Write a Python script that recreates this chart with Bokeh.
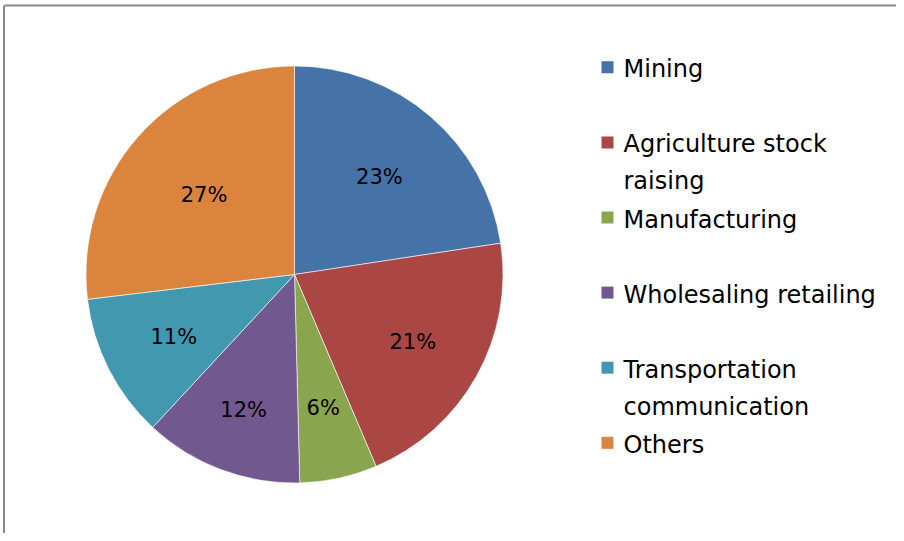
import math
from bokeh.plotting import figure
from bokeh.models import Range1d, ColumnDataSource
from bokeh.core.properties import value
from bokeh.embed import file_html
from bokeh.resources import INLINE

# ---- data ----
categories = ["Mining", "Agriculture stock raising", "Manufacturing",
              "Wholesaling retailing", "Transportation communication", "Others"]
legend_lines = [["Mining"], ["Agriculture stock", "raising"], ["Manufacturing"],
                ["Wholesaling retailing"], ["Transportation", "communication"], ["Others"]]
shares = [22.6, 21.0, 6.0, 12.3, 11.2, 26.9]
colors = ["#4572A7", "#AA4643", "#89A54E", "#71588F", "#4198AF", "#DB843D"]

W, H = 896, 533
FONT = "DejaVu Sans"

p = figure(width=W, height=H, output_backend="svg", toolbar_location=None,
           x_range=Range1d(0, W), y_range=Range1d(0, H), min_border=0)
p.axis.visible = False
p.grid.visible = False
p.outline_line_color = None
p.background_fill_color = "white"
p.border_fill_color = "white"

# frame lines (top and left)
p.segment(x0=[4, 3.5], y0=[H - 5, -5], x1=[W + 10, 3.5], y1=[H - 5, H - 5],
          line_color="#888888", line_width=2)

# ---- pie ----
cx, cy, R = 294, H - 274, 208.5
total = sum(shares)
starts, ends, mids = [], [], []
acc = 0.0
for s in shares:
    a0 = math.pi / 2 - 2 * math.pi * acc / total
    acc += s
    a1 = math.pi / 2 - 2 * math.pi * acc / total
    starts.append(a0)
    ends.append(a1)
    mids.append((a0 + a1) / 2)

src = ColumnDataSource(dict(start=starts, end=ends, color=colors))
p.wedge(x=cx, y=cy, radius=R, start_angle="start", end_angle="end", direction="clock",
        fill_color="color", line_color="white", line_width=0.6, source=src)

# label distance from centre (fraction of radius), per slice ("best fit" placement)
label_r = [0.625, 0.65, 0.65, 0.69, 0.65, 0.58]
lab = [f"{round(s / total * 100)}%" for s in shares]
p.text(x=[cx + f * R * math.cos(m) for f, m in zip(label_r, mids)],
       y=[cy + f * R * math.sin(m) - 1 for f, m in zip(label_r, mids)],
       text=lab, text_font=value(FONT), text_font_size="21px", text_color="#000000",
       text_align="center", text_baseline="middle")

# ---- legend ----
base0 = H - 77.3 + 8.5   # data y of first baseline (with rendering correction)
step = 75.1
line_gap = 37
sq_x, txt_x = 607, 623
tx, ty, tt = [], [], []
sqy = []
for i, lines in enumerate(legend_lines):
    b = base0 - step * i
    sqy.append(b - 8.5 + 10.5)
    for j, t in enumerate(lines):
        tx.append(txt_x)
        ty.append(b - line_gap * j)
        tt.append(t)
p.rect(x=[sq_x] * len(categories), y=sqy, width=12, height=12, fill_color=colors, line_color=None)
p.text(x=tx, y=ty, text=tt, text_font=value(FONT), text_font_size="24px", text_color="#000000",
       text_align="left", text_baseline="alphabetic")

open("out.html", "w").write(file_html(p, INLINE))
